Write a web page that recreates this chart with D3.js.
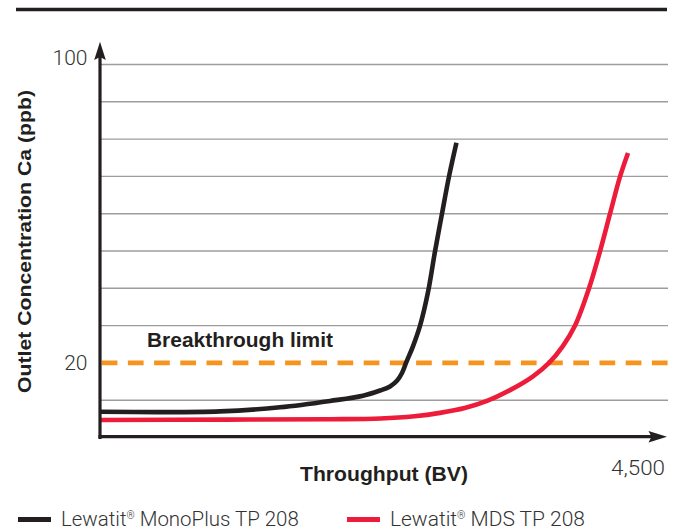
<!DOCTYPE html>
<html><head><meta charset="utf-8">
<script src="https://cdn.jsdelivr.net/npm/d3@7"></script>
<style>body{margin:0;background:#fff}svg{display:block}</style>
</head><body><svg id="c" width="680" height="531"></svg>
<script>
// ---- data ----
const seriesNames = ["Lewatit", "Lewatit"];
const seriesSuffix = [" MonoPlus TP 208", " MDS TP 208"];
const seriesColors = ["#231F20", "#EC1C3A"];
const monoPlusBV = [0, 453, 954, 1431, 1829, 2091, 2226, 2306, 2361, 2401, 2433, 2489, 2544, 2608, 2664, 2719, 2775, 2834];
const monoPlusCa = [6.9, 6.8, 7.0, 8.1, 9.8, 11.2, 12.6, 13.7, 15.2, 17.3, 20.0, 24.5, 29.9, 39.0, 50.0, 60.0, 70.0, 79.0];
const mdsBV = [0, 1000, 1829, 2230, 2500, 2703, 2900, 3077, 3260, 3443, 3570, 3680, 3777, 3888, 3976, 4055, 4135, 4198];
const mdsCa = [4.7, 4.8, 4.9, 5.1, 5.7, 6.6, 7.9, 9.8, 12.7, 16.4, 20.0, 24.5, 30.0, 40.0, 50.0, 60.0, 70.0, 76.3];
const gridValues = [10, 30, 40, 50, 60, 70, 80, 90, 100];
const yTickValues = [100, 20];
const yTickLabels = ["100", "20"];
const xTickValues = [4500];
const xTickLabels = ["4,500"];
const breakthroughLimit = 20;
const limitLabel = "Breakthrough limit";
const xTitle = "Throughput (BV)";
const yTitle = "Outlet Concentration Ca (ppb)";

// ---- drawing ----
const svg = d3.select("#c");
const x = d3.scaleLinear().domain([0, 4500]).range([100, 666]);
const y = d3.scaleLinear().domain([0, 100]).range([437.5, 64.5]);
const BOLD = "'Liberation Sans', Arial, sans-serif";
const LIGHT = "Roboto, 'Noto Sans', sans-serif";
const INK = "#231F20";

// top rule
svg.append("line").attr("x1", 16).attr("x2", 667).attr("y1", 9.5).attr("y2", 9.5)
  .attr("stroke", INK).attr("stroke-width", 3.6);

// gridlines
svg.append("g").selectAll("line").data(gridValues).join("line")
  .attr("x1", x(0)).attr("x2", 668)
  .attr("y1", d => y(d)).attr("y2", d => y(d))
  .attr("stroke", "#9d9d9d").attr("stroke-width", 1.4);

// breakthrough limit
svg.append("line").attr("x1", x(0) + 1.7).attr("x2", 668)
  .attr("y1", y(breakthroughLimit)).attr("y2", y(breakthroughLimit))
  .attr("stroke", "#F7941D").attr("stroke-width", 4.6)
  .attr("stroke-dasharray", "15.7,10.5");

svg.append("text").attr("x", 147).attr("y", y(breakthroughLimit) - 15.5)
  .attr("font-family", BOLD).attr("font-weight", 700).attr("font-size", 19.5)
  .attr("fill", INK).attr("textLength", 186).attr("lengthAdjust", "spacingAndGlyphs")
  .text(limitLabel);

// curves
const line = d3.line().x(d => x(d[0])).y(d => y(d[1])).curve(d3.curveCatmullRom.alpha(0.5));
const series = [
  d3.zip(mdsBV, mdsCa),
  d3.zip(monoPlusBV, monoPlusCa)
];
const colorsForDraw = [seriesColors[1], seriesColors[0]];
svg.append("g").selectAll("path").data(series).join("path")
  .attr("d", line).attr("fill", "none")
  .attr("stroke", (d, i) => colorsForDraw[i]).attr("stroke-width", 4.6)
  .attr("stroke-linejoin", "round");

// axes
const x0 = x(0), y0 = y(0);
svg.append("line").attr("x1", x0).attr("x2", x0).attr("y1", y0 + 1.5).attr("y2", 56)
  .attr("stroke", INK).attr("stroke-width", 3.2);
svg.append("line").attr("x1", x0 - 1.5).attr("x2", 655).attr("y1", y0 - 0.8).attr("y2", y0 - 0.8)
  .attr("stroke", INK).attr("stroke-width", 3.2);
// arrowheads
svg.append("path").attr("d", `M${x0},41.7 L${x0 + 5.8},60 L${x0},57 L${x0 - 5.8},60 Z`).attr("fill", INK);
svg.append("path").attr("d", `M667,${y0 - 0.8} L648.5,${y0 - 6.5} L651.5,${y0 - 0.8} L648.5,${y0 + 4.9} Z`).attr("fill", INK);

// y tick labels
const yLabelShift = { "100": 0.5, "20": 7.5 };
svg.append("g").selectAll("text").data(yTickValues).join("text")
  .attr("x", 87.5).attr("y", (d, i) => y(d) + yLabelShift[yTickLabels[i]])
  .attr("text-anchor", "end").attr("font-family", LIGHT).attr("font-weight", 300)
  .attr("font-size", 21).attr("fill", "#333")
  .text((d, i) => yTickLabels[i]);

// x tick label
svg.append("g").selectAll("text").data(xTickValues).join("text")
  .attr("x", d => x(d) - 1).attr("y", 475)
  .attr("text-anchor", "end").attr("font-family", LIGHT).attr("font-weight", 300)
  .attr("font-size", 20).attr("fill", "#333").attr("textLength", 54).attr("lengthAdjust", "spacingAndGlyphs")
  .text((d, i) => xTickLabels[i]);

// axis titles
svg.append("text").attr("x", 300).attr("y", 480.5)
  .attr("font-family", BOLD).attr("font-weight", 700).attr("font-size", 19.5).attr("fill", INK)
  .attr("textLength", 168).attr("lengthAdjust", "spacingAndGlyphs").text(xTitle);
svg.append("text").attr("transform", "translate(31,393) rotate(-90)")
  .attr("font-family", BOLD).attr("font-weight", 700).attr("font-size", 19).attr("fill", INK)
  .attr("textLength", 303).attr("lengthAdjust", "spacingAndGlyphs").text(yTitle);

// legend
const legendX = [18, 347];
const legendTextW = [238, 195];
const lg = svg.append("g");
seriesNames.forEach((name, i) => {
  lg.append("line").attr("x1", legendX[i]).attr("x2", legendX[i] + 33)
    .attr("y1", 519.5).attr("y2", 519.5).attr("stroke", seriesColors[i]).attr("stroke-width", 4.8);
  const t = lg.append("text").attr("font-family", LIGHT).attr("font-weight", 300)
    .attr("font-size", 20).attr("fill", "#333");
  t.append("tspan").text(name);
  t.append("tspan").attr("font-size", 10).attr("dy", -7).text("®");
  t.append("tspan").attr("dy", 7).text(seriesSuffix[i]);
  const w = t.node().getComputedTextLength();
  const sx = legendTextW[i] / w;
  t.attr("transform", `translate(${legendX[i] + 43},526) scale(${sx},1)`);
});
</script></body></html>
